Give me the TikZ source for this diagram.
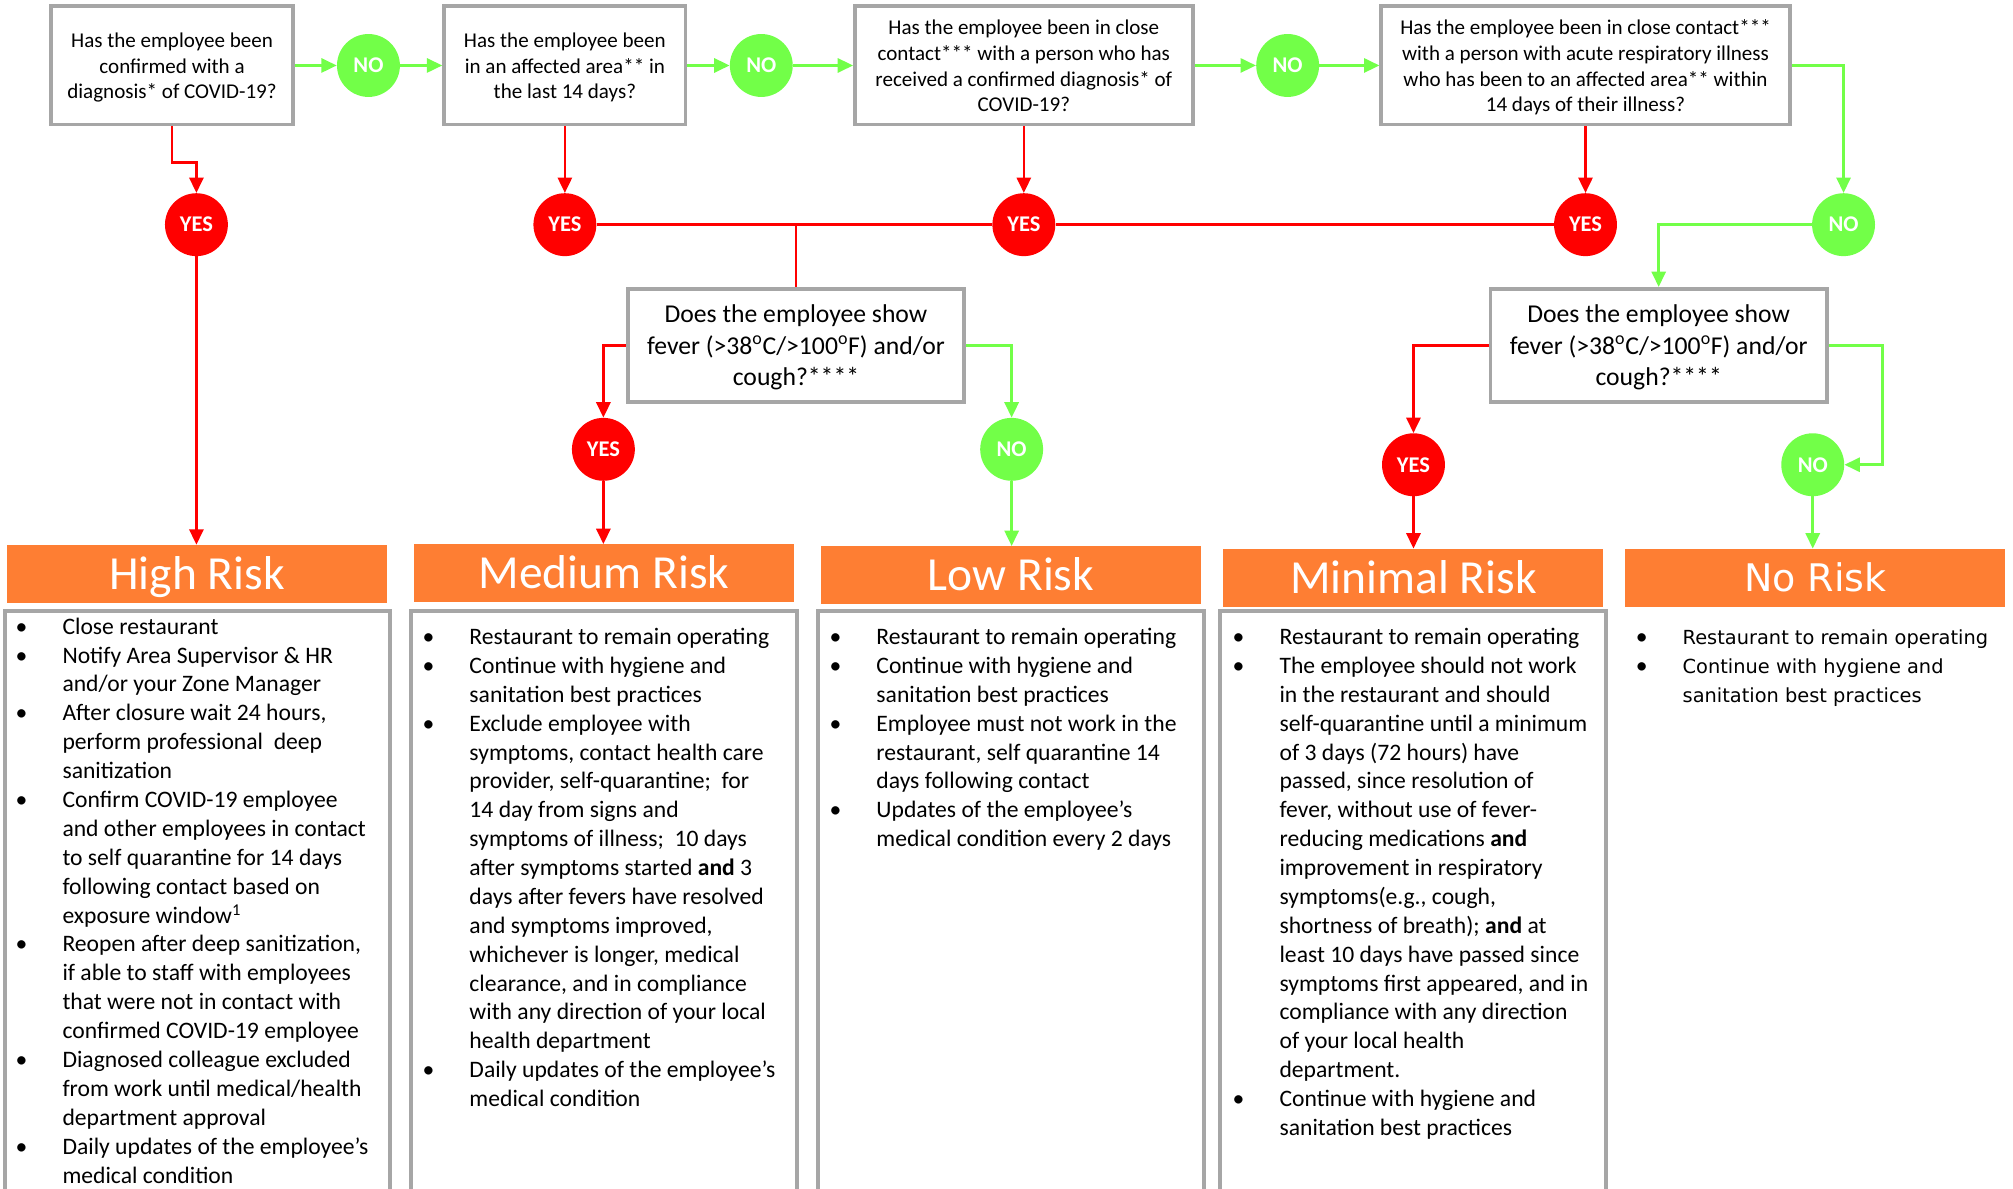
\documentclass[tikz,border=0pt]{standalone}
\usepackage{fontspec}
\setmainfont{Carlito}
\newfontfamily\verd{DejaVu Sans}
\usetikzlibrary{arrows.meta}
\definecolor{boxgray}{HTML}{A6A6A6}
\definecolor{okgreen}{HTML}{72FF48}
\definecolor{badred}{HTML}{FF0000}
\definecolor{hdrorange}{HTML}{FE7E33}
\newcommand\lowtext[1]{\raisebox{-2pt}[\height][\depth]{\begin{tabular}{@{}c@{}}#1\end{tabular}}}
\newcommand\bigdot{{\rmfamily\fontsize{18.4}{22.5}\selectfont\textbullet}}
\begin{document}
\begin{tikzpicture}[x=1pt,y=-1pt,
 qbox/.style={draw=boxgray,line width=3pt,fill=white,inner sep=0pt,font=\fontsize{16.4}{20}\selectfont},
 fbox/.style={qbox,font=\fontsize{20}{24.5}\selectfont,minimum width=262pt,minimum height=88pt},
 yesc/.style={circle,fill=badred,text=white,minimum size=49pt,inner sep=0pt,font=\bfseries\fontsize{17.5}{17.5}\selectfont},
 noc/.style={yesc,fill=okgreen},
 hdr/.style={fill=hdrorange,text=white,minimum width=296pt,minimum height=45pt,inner sep=0pt,text height=28pt,text depth=4pt,font=\fontsize{37}{37}\selectfont},
 panel/.style={draw=boxgray,line width=3pt},
 body/.style={anchor=base west,inner sep=0pt,font=\fontsize{18.4}{22.5}\selectfont},
 rarr/.style={draw=badred,line width=2pt,-{Triangle[length=12pt,width=11pt]}},
 garr/.style={draw=okgreen,line width=2pt,-{Triangle[length=12pt,width=11pt]}},
 rline/.style={draw=badred,line width=2pt},
]
\useasboundingbox (0,0) rectangle (1568,926);

% question boxes
\node[qbox,minimum width=188pt,minimum height=92pt] (q1) at (134,51) {\lowtext{Has the employee been\\confirmed with a\\diagnosis* of COVID-19?}};
\node[noc] (n1) at (287,51) {NO};
\node[qbox,minimum width=188pt,minimum height=92pt] (q2) at (440,51) {\lowtext{Has the employee been\\in an affected area** in\\the last 14 days?}};
\node[noc] (n2) at (593,51) {NO};
\node[qbox,minimum width=263pt,minimum height=92pt] (q3) at (797.5,51) {\lowtext{Has the employee been in close\\contact*** with a person who has\\received a confirmed diagnosis* of\\COVID-19?}};
\node[noc] (n3) at (1003,51) {NO};
\node[qbox,minimum width=318pt,minimum height=92pt] (q4) at (1235,51) {\lowtext{Has the employee been in close contact***\\with a person with acute respiratory illness\\who has been to an affected area** within\\14 days of their illness?}};

\node[yesc] (y1) at (153,175) {YES};
\node[yesc] (y2) at (440,175) {YES};
\node[yesc] (y3) at (797.5,175) {YES};
\node[yesc] (y4) at (1235,175) {YES};
\node[noc] (n4) at (1436,175) {NO};

\node[fbox] (f1) at (620,269) {\lowtext{Does the employee show\\fever (>38\textsuperscript{o}C/>100\textsuperscript{o}F) and/or\\cough?****}};
\node[fbox] (f2) at (1292,269) {\lowtext{Does the employee show\\fever (>38\textsuperscript{o}C/>100\textsuperscript{o}F) and/or\\cough?****}};

\node[yesc] (y5) at (470,350) {YES};
\node[noc] (n5) at (788,350) {NO};
\node[yesc] (y6) at (1101,362) {YES};
\node[noc] (n6) at (1412,362) {NO};

% headers
\node[hdr] (hh) at (153.5,447) {High Risk};
\node[hdr] (hm) at (470.5,446.5) {Medium Risk};
\node[hdr] (hl) at (787.5,448) {Low Risk};
\node[hdr] (hmin) at (1101,450) {Minimal Risk};
\node[hdr,font=\verd\fontsize{29.6}{30}\selectfont,text height=24pt,text depth=2pt] (hn) at (1414,450) {No Risk};

% panels
\draw[panel] (4,935) -- (4,476) -- (304,476) -- (304,935);
\draw[panel] (320,935) -- (320,476) -- (621,476) -- (621,935);
\draw[panel] (637,935) -- (637,476) -- (938,476) -- (938,935);
\draw[panel] (950,935) -- (950,476) -- (1251,476) -- (1251,935);

% bodies
\node[body] (bh) at (12,494) {\begin{tabular}[t]{@{}p{36.5pt}@{}l@{}}
\textbullet & Close restaurant\\
\textbullet & Notify Area Supervisor \& HR\\
 & and/or your Zone Manager\\
\textbullet & After closure wait 24 hours,\\
 & perform professional~ deep\\
 & sanitization\\
\textbullet & Confirm COVID-19 employee\\
 & and other employees in contact\\
 & to self quarantine for 14 days\\
 & following contact based on\\
 & exposure window\textsuperscript{1}\\
\textbullet & Reopen after deep sanitization,\\
 & if able to staff with employees\\
 & that were not in contact with\\
 & confirmed COVID-19 employee\\
\textbullet & Diagnosed colleague excluded\\
 & from work until medical/health\\
 & department approval\\
\textbullet & Daily updates of the employee’s\\
 & medical condition
\end{tabular}};

\node[body] (bm) at (329,502) {\begin{tabular}[t]{@{}p{36.5pt}@{}l@{}}
\textbullet & Restaurant to remain operating\\
\textbullet & Continue with hygiene and\\
 & sanitation best practices\\
\textbullet & Exclude employee with\\
 & symptoms, contact health care\\
 & provider, self-quarantine;~ for\\
 & 14 day from signs and\\
 & symptoms of illness;~ 10 days\\
 & after symptoms started \textbf{and} 3\\
 & days after fevers have resolved\\
 & and symptoms improved,\\
 & whichever is longer, medical\\
 & clearance, and in compliance\\
 & with any direction of your local\\
 & health department\\
\textbullet & Daily updates of the employee’s\\
 & medical condition
\end{tabular}};

\node[body] (bl) at (646,502) {\begin{tabular}[t]{@{}p{36.5pt}@{}l@{}}
\textbullet & Restaurant to remain operating\\
\textbullet & Continue with hygiene and\\
 & sanitation best practices\\
\textbullet & Employee must not work in the\\
 & restaurant, self quarantine 14\\
 & days following contact\\
\textbullet & Updates of the employee’s\\
 & medical condition every 2 days
\end{tabular}};

\node[body] (bmin) at (960,502) {\begin{tabular}[t]{@{}p{36.5pt}@{}l@{}}
\textbullet & Restaurant to remain operating\\
\textbullet & The employee should not work\\
 & in the restaurant and should\\
 & self-quarantine until a minimum\\
 & of 3 days (72 hours) have\\
 & passed, since resolution of\\
 & fever, without use of fever-\\
 & reducing medications \textbf{and}\\
 & improvement in respiratory\\
 & symptoms(e.g., cough,\\
 & shortness of breath); \textbf{and} at\\
 & least 10 days have passed since\\
 & symptoms first appeared, and in\\
 & compliance with any direction\\
 & of your local health\\
 & department.\\
\textbullet & Continue with hygiene and\\
 & sanitation best practices
\end{tabular}};

\node[body,font=\verd\fontsize{15.1}{22.5}\selectfont] (bn) at (1274,502) {\begin{tabular}[t]{@{}p{36.5pt}@{}l@{}}
\bigdot & Restaurant to remain operating\\
\bigdot & Continue with hygiene and\\
 & sanitation best practices
\end{tabular}};

% connectors
\draw[garr] (q1.east) -- (n1.west);
\draw[garr] (n1.east) -- (q2.west);
\draw[garr] (q2.east) -- (n2.west);
\draw[garr] (n2.east) -- (q3.west);
\draw[garr] (q3.east) -- (n3.west);
\draw[garr] (n3.east) -- (q4.west);
\draw[garr] (q4.east) -| (n4.north);
\draw[rarr] (q1.south) -- ++(0,28) -| (y1.north);
\draw[rarr] (q2.south) -- (y2.north);
\draw[rarr] (q3.south) -- (y3.north);
\draw[rarr] (q4.south) -- (y4.north);
\draw[rline] (y2.east) -- (y3.west);
\draw[rline] (y3.east) -- (y4.west);
\coordinate (j1) at (f1.north |- y2.center);
\draw[rline] (j1) -- (f1.north);
\draw[rarr] (y1.south) -- (y1.south |- hh.north);
\draw[rarr] (f1.west) -| (y5.north);
\draw[garr] (f1.east) -| (n5.north);
\draw[rarr] (y5.south) -- (y5.south |- hm.north);
\draw[garr] (n5.south) -- (n5.south |- hl.north);
\draw[garr] (n4.west) -| (f2.north);
\draw[rarr] (f2.west) -| (y6.north);
\draw[garr] (f2.east) -- ++(42,0) |- (n6.east);
\draw[rarr] (y6.south) -- (y6.south |- hmin.north);
\draw[garr] (n6.south) -- (n6.south |- hn.north);
\end{tikzpicture}
\end{document}
